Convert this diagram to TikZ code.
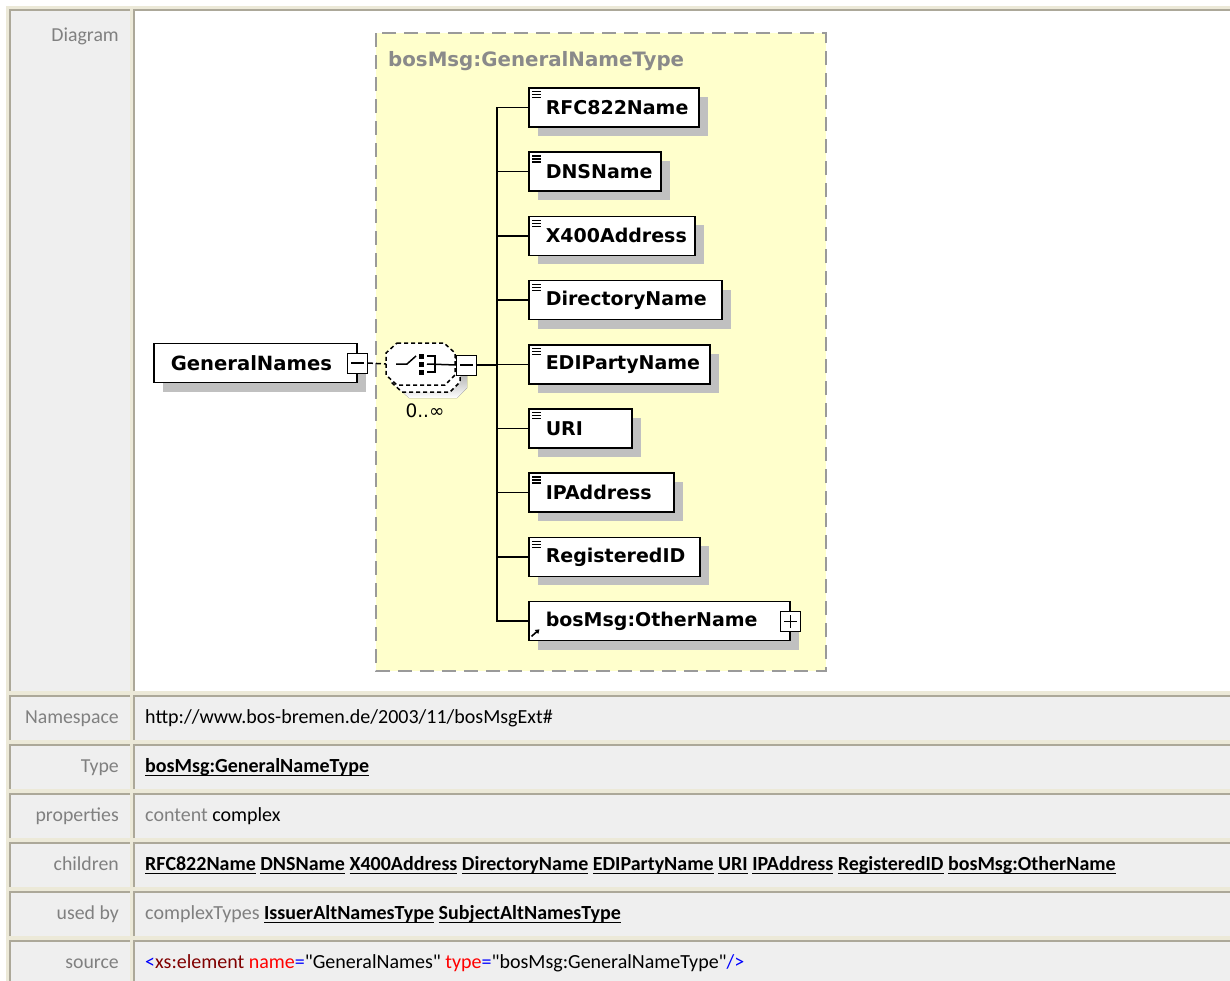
\documentclass[tikz,border=0pt]{standalone}
\usepackage{fontspec}
\setmainfont{Carlito}[Ligatures=TeXOff]
\newfontfamily\elemfont{DejaVu Sans}
\usetikzlibrary{shadows,arrows.meta}

\definecolor{cellbg}{HTML}{EFEFEF}
\definecolor{cream}{HTML}{ECE9D8}
\definecolor{edge}{HTML}{ACA899}
\definecolor{lblgray}{HTML}{808080}
\definecolor{pale}{HTML}{FFFFCC}
\definecolor{boxdash}{HTML}{9A9A9A}
\definecolor{shade}{HTML}{C0C0C0}
\definecolor{titlegray}{HTML}{8A8A8A}
\definecolor{xmlblue}{HTML}{0000FF}
\definecolor{xmlmaroon}{HTML}{800000}
\definecolor{xmlred}{HTML}{FF0000}

% underlined hyperlink-style word
\newsavebox\lnkbox
\newcommand\lnk[1]{\sbox\lnkbox{#1}\rlap{\rule[-3.4pt]{\wd\lnkbox}{1.3pt}}\usebox\lnkbox}
% straight double quote
\newcommand\dq{\char34\relax}

% one table cell: x1 y1 x2 y2 fill
\newcommand\tcell[5]{%
  \fill[#5] (#1,#2) rectangle (#3,#4);
  \draw[edge, line width=1.5pt] (#1+0.75,#4) -- (#1+0.75,#2+0.75) -- (#3,#2+0.75);}

\tikzset{
  lbl/.style={font=\fontsize{19.8}{23}\selectfont, text=lblgray, inner sep=0pt, anchor=base east},
  val/.style={font=\fontsize{20}{23}\selectfont, text=black, inner sep=0pt, anchor=base west},
  elembox/.style={draw=black, line width=1.5pt, fill=white,
    font={\elemfont\bfseries\fontsize{19}{22}\selectfont},
    minimum height=39pt, inner ysep=0pt, inner xsep=17pt, align=left, anchor=west,
    general shadow={fill=shade, shadow xshift=9pt, shadow yshift=-9pt}},
  child/.style={elembox, text width=#1},
  toggle/.style={draw=black, line width=1pt, fill=white, minimum size=20pt, inner sep=0pt},
  wire/.style={draw=black, line width=1.5pt},
  dashwire/.style={draw=black, line width=1.5pt, dash pattern=on 5pt off 3pt},
}

% "document" icon in the upper left corner of an element box
\newcommand\docicon[1]{%
  \draw[line width=1.3pt] ([shift={(4,4.5)}]#1.north west) -- ++(9,0)
    ([shift={(4,7.5)}]#1.north west) -- ++(9,0)
    ([shift={(4,10.5)}]#1.north west) -- ++(9,0);}

\begin{document}
\begin{tikzpicture}[x=1pt,y=-1pt]
\useasboundingbox (0,0) rectangle (1230,980);

% ---------- table frame ----------
\fill[cream] (6,6) rectangle (1234,986);
\tcell{9}{9}{130}{691}{cellbg}
\tcell{133}{9}{1234}{691}{white}
\foreach \t in {695,744,793,842,891,940}{
  \tcell{9}{\t}{130}{\t+45}{cellbg}
  \tcell{133}{\t}{1234}{\t+45}{cellbg}
}

% ---------- row labels ----------
\node[lbl] (lDiag) at (119,41) {Diagram};
\node[lbl] (lNs)   at (119,723.5) {Namespace};
\node[lbl] (lType) at (119,772.5) {Type};
\node[lbl] (lProp) at (119,821.5) {properties};
\node[lbl] (lChld) at (119,870.5) {children};
\node[lbl] (lUsed) at (119,919.5) {used by};
\node[lbl] (lSrc)  at (119,968.5) {source};

% ---------- row values ----------
\node[val] (vNs) at (145,723.5) {http://www.bos-bremen.de/2003/11/bosMsgExt\#};
\node[val] (vType) at (145,772.5) {\bfseries\lnk{bosMsg:GeneralNameType}};
\node[val] (vProp) at (145,821.5) {\textcolor{lblgray}{content} complex};
\node[val] (vChld) at (145,870.5) {\bfseries\lnk{RFC822Name} \lnk{DNSName} \lnk{X400Address} \lnk{DirectoryName} \lnk{EDIPartyName} \lnk{URI} \lnk{IPAddress} \lnk{RegisteredID} \lnk{bosMsg:OtherName}};
\node[val] (vUsed) at (145,919.5) {\textcolor{lblgray}{complexTypes} \bfseries\lnk{IssuerAltNamesType} \lnk{SubjectAltNamesType}};
\node[val] (vSrc) at (145,968.5) {\textcolor{xmlblue}{<}\textcolor{xmlmaroon}{xs:element} \textcolor{xmlred}{name}\textcolor{xmlblue}{=}\dq GeneralNames\dq{} \textcolor{xmlred}{type}\textcolor{xmlblue}{=}\dq bosMsg:GeneralNameType\dq\textcolor{xmlblue}{/>}};

% ---------- complex type region ----------
\fill[pale] (376,33) rectangle (826,671);
\draw[boxdash, line width=2pt, dash pattern=on 14pt off 8pt] (376,33) rectangle (826,671);
\node[anchor=base west, inner sep=0pt, text=titlegray,
  font={\elemfont\bfseries\fontsize{19.8}{22}\selectfont}] (ttl) at (388,66) {bosMsg:GeneralNameType};

% ---------- root element ----------
\node[elembox, text width=169pt, font={\elemfont\bfseries\fontsize{19.6}{22}\selectfont}] (gn) at (153,363) {GeneralNames};
\node[toggle] (gnm) at (gn.east) {};
\draw[line width=1.2pt] ([xshift=4pt]gnm.west) -- ([xshift=-4pt]gnm.east);

% ---------- choice compositor (optional, repeated) ----------
\coordinate (comp) at (386,364);
\fill[shade] (409,358) -- (456,358) -- (467,368) -- (467,388) -- (457,398) -- (409,398) -- (398,388) -- (398,368) -- cycle;
\filldraw[fill=white, draw=black, line width=1.5pt, dash pattern=on 4pt off 3pt]
  (402,352) -- (449,352) -- (460,362) -- (460,382) -- (450,392) -- (402,392) -- (391,382) -- (391,362) -- cycle;
\filldraw[fill=white, draw=black, line width=1.5pt, dash pattern=on 4pt off 3pt]
  (397,343) -- (444,343) -- (455,353) -- (455,375) -- (445,385) -- (397,385) -- (386,375) -- (386,353) -- cycle;
\draw[wire] (396,364) -- (407,364) -- (416,356);
\fill (418.5,353.5) rectangle (424,359);
\fill (418.5,361.5) rectangle (424,367);
\fill (418.5,369.5) rectangle (424,375);
\draw[wire] (427,356) -- (435,356) -- (435,372) -- (427,372);
\node[toggle] (cmin) at (466.5,365) {};
\draw[line width=1.2pt] ([xshift=4pt]cmin.west) -- ([xshift=-4pt]cmin.east);
\draw[wire] (427,364) -- (cmin.west);
\node[inner sep=0pt, font={\elemfont\fontsize{18.5}{20}\selectfont}] (occ) at (425,411) {0..∞};

\draw[dashwire] (gnm.east) -- (comp);

% ---------- child elements ----------
\node[child=136pt] (c1) at (528,107.5) {RFC822Name};
\node[child=98pt]  (c2) at (528,171.7) {DNSName};
\node[child=132pt] (c3) at (528,235.9) {X400Address};
\node[child=159pt] (c4) at (528,300.1) {DirectoryName};
\node[child=147pt] (c5) at (528,364.3) {EDIPartyName};
\node[child=69pt]  (c6) at (528,428.5) {URI};
\node[child=111pt] (c7) at (528,492.7) {IPAddress};
\node[child=137pt] (c8) at (528,556.9) {RegisteredID};
\node[child=227pt] (c9) at (528,621.1) {bosMsg:OtherName};

\foreach \c in {c1,c2,c3,c4,c5,c6,c7,c8}{\docicon{\c}}

% reference arrow on the last element
\draw[line width=1.6pt, -{Triangle[length=4pt,width=5pt]}]
  ([shift={(3.5,-5)}]c9.south west) -- ++(8,-7);

% expand toggle of the referenced element
\node[toggle] (opl) at (c9.east) {};
\draw[line width=1.2pt] ([xshift=4pt]opl.west) -- ([xshift=-4pt]opl.east)
  ([yshift=4pt]opl.south) -- ([yshift=-4pt]opl.north);

% ---------- connectors ----------
\coordinate (trunk) at (497,365);
\draw[wire] (cmin.east) -- (trunk);
\foreach \c in {c1,c2,c3,c4,c5,c6,c7,c8,c9}{\draw[wire] (trunk) |- (\c.west);}

\end{tikzpicture}
\end{document}
